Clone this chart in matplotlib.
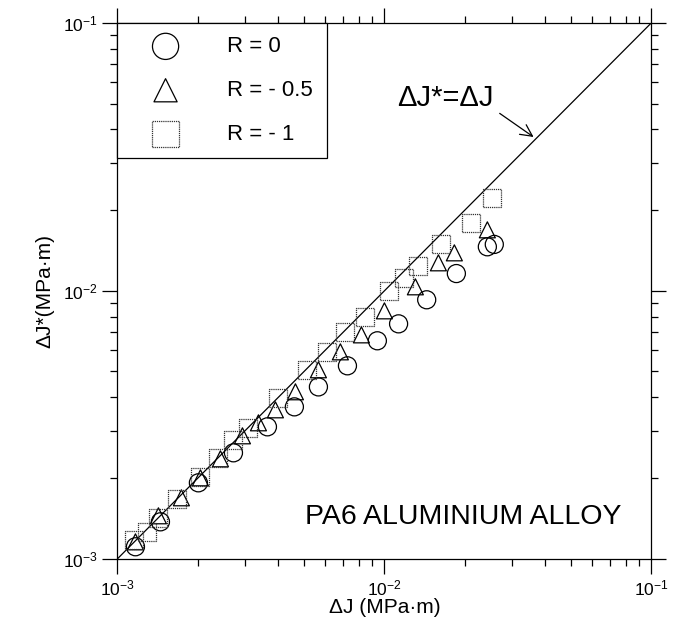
import numpy as np
import matplotlib
matplotlib.use('Agg')
import matplotlib.pyplot as plt
from matplotlib.ticker import NullFormatter

plt.rcParams['font.family'] = ['Liberation Sans', 'DejaVu Sans']
plt.rcParams['mathtext.default'] = 'regular'
plt.rcParams['axes.unicode_minus'] = False

# R = 0 (circles)
dj_r0 = [1.168e-3, 1.449e-3, 2.01e-3, 2.72e-3, 3.646e-3, 4.60e-3, 5.66e-3,
         7.27e-3, 9.41e-3, 11.3e-3, 14.4e-3, 18.6e-3, 24.3e-3, 25.8e-3]
djs_r0 = [1.109e-3, 1.374e-3, 1.921e-3, 2.486e-3, 3.108e-3, 3.69e-3, 4.38e-3,
          5.25e-3, 6.51e-3, 7.53e-3, 9.26e-3, 11.6e-3, 14.6e-3, 14.9e-3]

# R = -0.5 (triangles)
dj_r05 = [1.168e-3, 1.424e-3, 1.736e-3, 2.046e-3, 2.431e-3, 2.939e-3, 3.374e-3,
          3.906e-3, 4.642e-3, 5.66e-3, 6.84e-3, 8.20e-3, 10.0e-3, 13.06e-3,
          15.93e-3, 18.28e-3, 24.3e-3]
djs_r05 = [1.157e-3, 1.447e-3, 1.689e-3, 2.005e-3, 2.361e-3, 2.877e-3, 3.217e-3,
           3.597e-3, 4.20e-3, 5.074e-3, 5.92e-3, 6.85e-3, 8.42e-3, 10.35e-3,
           12.72e-3, 13.86e-3, 16.89e-3]

# R = -1 (squares)
dj_r1 = [1.158e-3, 1.295e-3, 1.424e-3, 1.678e-3, 2.046e-3, 2.389e-3, 2.72e-3,
         3.095e-3, 4.009e-3, 5.147e-3, 6.115e-3, 7.14e-3, 8.49e-3, 10.44e-3,
         11.88e-3, 13.41e-3, 16.35e-3, 21.18e-3, 25.38e-3]
djs_r1 = [1.177e-3, 1.261e-3, 1.422e-3, 1.675e-3, 2.023e-3, 2.382e-3, 2.78e-3,
          3.082e-3, 3.988e-3, 5.074e-3, 5.92e-3, 7.03e-3, 8.00e-3, 10.0e-3,
          11.18e-3, 12.40e-3, 14.98e-3, 17.94e-3, 22.23e-3]

# line dJ* = dJ
line_x = [1e-3, 1e-1]
line_y = [1e-3, 1e-1]

fig = plt.figure(figsize=(6.75, 6.35), dpi=100)
ax = fig.add_axes([0.174, 0.12, 0.791, 0.844])

ax.plot(line_x, line_y, color='black', lw=0.9)

ax.scatter(dj_r0, djs_r0, s=13**2, marker='o', facecolors='none',
           edgecolors='black', linewidths=0.9, label='R = 0', zorder=3)
ax.scatter(dj_r05, djs_r05, s=11.5**2, marker='^', facecolors='none',
           edgecolors='black', linewidths=0.9, label='R = - 0.5', zorder=3)
ax.scatter(dj_r1, djs_r1, s=13**2, marker='s', facecolors='none',
           edgecolors='#333333', linewidths=0.9, linestyles=(0, (1, 0.7)),
           label='R = - 1', zorder=3)

ax.set_xscale('log')
ax.set_yscale('log')
ax.set_xlim(1e-3, 1e-1)
ax.set_ylim(1e-3, 1e-1)
ax.xaxis.set_minor_formatter(NullFormatter())
ax.yaxis.set_minor_formatter(NullFormatter())

ax.tick_params(which='both', direction='out', top=True, right=True,
               width=0.9, labelsize=12.5)
ax.tick_params(which='major', length=11, pad=3)
ax.tick_params(which='minor', length=5)
for sp in ax.spines.values():
    sp.set_linewidth(0.9)

ax.set_xlabel('ΔJ (MPa·m)', fontsize=15, labelpad=0)
ax.set_ylabel('ΔJ*(MPa·m)', fontsize=15, labelpad=6)

leg = ax.legend(loc='upper left', bbox_to_anchor=(0, 1), borderaxespad=0,
                fancybox=False, edgecolor='black', framealpha=1, fontsize=16,
                markerscale=1.45, handlelength=3.13, handletextpad=1.22,
                labelspacing=1.03, borderpad=0.6, scatterpoints=1)
leg.get_frame().set_linewidth(0.9)

ax.annotate('ΔJ*=ΔJ', xy=(0.0362, 0.0375), xytext=(0.0169, 0.0525),
            ha='center', va='center', fontsize=21,
            arrowprops=dict(arrowstyle='->', lw=0.9, relpos=(1.0, 0.1),
                            shrinkA=3, shrinkB=0))

ax.text(5.06e-3, 1.435e-3, 'PA6 ALUMINIUM ALLOY', fontsize=20.5,
        ha='left', va='center')

fig.savefig('out.png', dpi=100)
